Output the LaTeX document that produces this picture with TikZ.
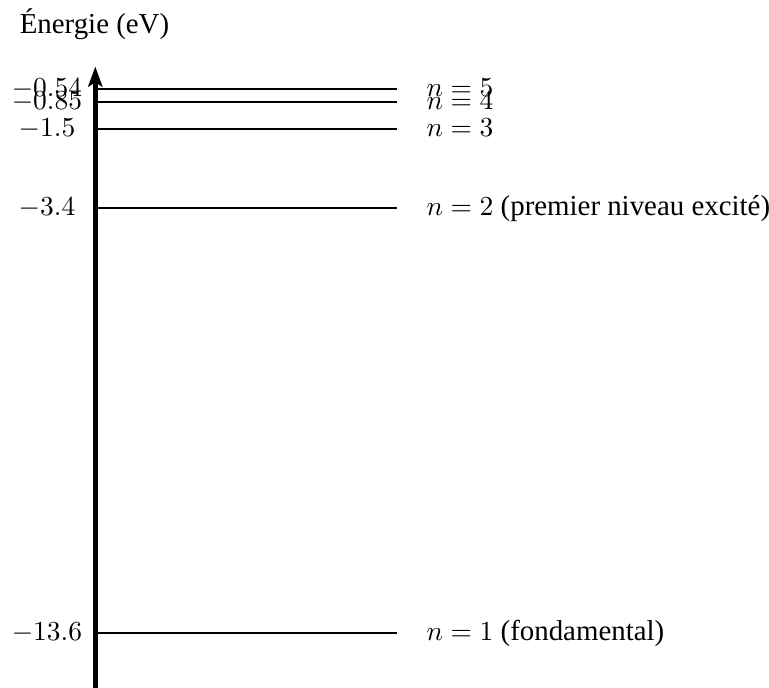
\documentclass[tikz,border=0pt]{standalone}
\usepackage[no-math]{fontspec}
\setmainfont{Liberation Serif}[Scale=1.05]
\usetikzlibrary{arrows.meta}
\begin{document}
\begin{tikzpicture}[x=0.3636pt,y=-0.3636pt,
  levelline/.style={line width=0.8pt},
  axisline/.style={line width=1.7pt,-{Stealth[length=7.3pt,width=5.2pt,inset=1.6pt]}},
  lefttext/.style={inner sep=0pt,anchor=base},
  righttext/.style={inner sep=0pt,anchor=base west}]
\useasboundingbox (0,0) rectangle (769,688);
% axis
\coordinate (axbot) at (95.3,700);
\coordinate (axtop) at (95.3,66.6);
\draw[axisline] (axbot) -- (axtop);
\node[lefttext] (title) at (94.5,34) {Énergie (eV)};
% levels
\foreach \y/\e/\t [count=\i] in {633.3/-13.6/{$n=1$ (fondamental)},
                                 208.3/-3.4/{$n=2$ (premier niveau excité)},
                                 129.1/-1.5/{$n=3$},
                                 102.0/-0.85/{$n=4$},
                                 89.1/-0.54/{$n=5$}}{
  \coordinate (la\i) at (95.3,\y);
  \coordinate (lb\i) at (396.7,\y);
  \draw[levelline] (la\i) -- (lb\i);
  \node[lefttext] (ev\i) at (47,\y+7.3) {$\e$};
  \node[righttext] (nl\i) at (426,\y+7.3) {\t};
}
\end{tikzpicture}
\end{document}
